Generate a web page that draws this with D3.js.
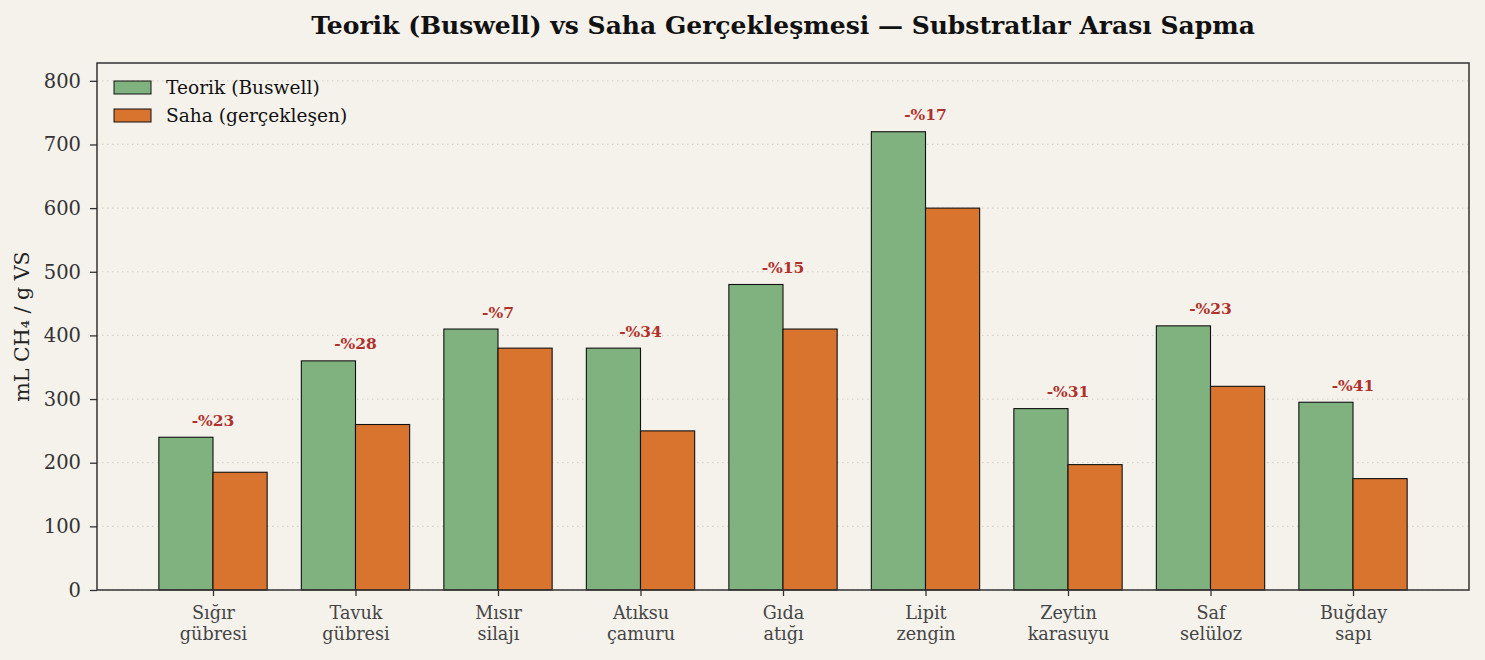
<!DOCTYPE html>
<html><head><meta charset="utf-8">
<script src="https://cdn.jsdelivr.net/npm/d3@7"></script>
<style>
html,body{margin:0;padding:0;background:#f5f2ec;}
svg{display:block;font-family:"DejaVu Serif",serif;}
</style></head>
<body><svg id="c" width="1485" height="660"></svg>
<script>
const categories = [["Sığır","gübresi"],["Tavuk","gübresi"],["Mısır","silajı"],["Atıksu","çamuru"],["Gıda","atığı"],["Lipit","zengin"],["Zeytin","karasuyu"],["Saf","selüloz"],["Buğday","sapı"]];
const teorik = [240, 360, 410, 380, 480, 720, 285, 415, 295];
const saha = [185, 260, 380, 250, 410, 600, 197, 320, 175];
const yTicks = [0,100,200,300,400,500,600,700,800];
const seriesNames = ["Teorik (Buswell)", "Saha (gerçekleşen)"];
const colors = ["#80b27f", "#d9742e"];

const W=1485,H=660;
const m={l:97,r:16,t:63,b:70};
const svg=d3.select("#c");
svg.append("rect").attr("width",W).attr("height",H).attr("fill","#f5f2ec");

const x=d3.scaleLinear().domain([-0.814, categories.length-1+0.814]).range([m.l, W-m.r]);
const y=d3.scaleLinear().domain([0, d3.max(teorik)*1.15]).range([H-m.b, m.t]);
const bw = x(0.38)-x(0);

// grid
svg.append("g").selectAll("line").data(yTicks).join("line")
  .attr("x1",m.l).attr("x2",W-m.r).attr("y1",d=>y(d)).attr("y2",d=>y(d))
  .attr("stroke","#d6d2c8").attr("stroke-width",1.2).attr("stroke-dasharray","1.5,3.5");

const g=svg.append("g");
categories.forEach((c,i)=>{
  g.append("rect").attr("x",x(i)-bw).attr("y",y(teorik[i])).attr("width",bw).attr("height",y(0)-y(teorik[i]))
    .attr("fill",colors[0]).attr("stroke","#111").attr("stroke-width",1.1);
  g.append("rect").attr("x",x(i)).attr("y",y(saha[i])).attr("width",bw).attr("height",y(0)-y(saha[i]))
    .attr("fill",colors[1]).attr("stroke","#111").attr("stroke-width",1.1);
  const pct=Math.round((1-saha[i]/teorik[i])*100);
  g.append("text").attr("x",x(i)).attr("y",y(Math.max(teorik[i],saha[i]))-11.5)
    .attr("text-anchor","middle").attr("font-weight","bold").attr("font-size",15.5)
    .attr("fill","#b0302a").text("-%"+pct);
});

// y axis
const ya=svg.append("g").attr("transform",`translate(${m.l},0)`)
  .call(d3.axisLeft(y).tickValues(yTicks).tickSize(7).tickPadding(9).tickFormat(d3.format("d")));
ya.select(".domain").remove();
ya.selectAll("line").attr("stroke","#333").attr("stroke-width",1.3);
ya.selectAll("text").attr("font-size",19.5).attr("fill","#333").attr("font-family","DejaVu Serif");

// x axis
const xa=svg.append("g").attr("transform",`translate(0,${H-m.b})`)
  .call(d3.axisBottom(x).tickValues(d3.range(categories.length)).tickSize(6).tickFormat(""));
xa.select(".domain").remove();
xa.selectAll("line").attr("stroke","#333").attr("stroke-width",1.3);
xa.selectAll(".tick").each(function(d){
  const t=d3.select(this).append("text").attr("fill","#444").attr("font-size",17.6).attr("text-anchor","middle").attr("font-family","DejaVu Serif");
  categories[d].forEach((s,k)=>t.append("tspan").attr("x",0).attr("y",29+k*20.5).text(s));
});

// frame
svg.append("rect").attr("x",m.l).attr("y",m.t).attr("width",W-m.r-m.l).attr("height",H-m.b-m.t)
  .attr("fill","none").attr("stroke","#333").attr("stroke-width",1.5);

// y label
svg.append("text").attr("transform",`translate(29,${(m.t+H-m.b)/2}) rotate(-90)`)
  .attr("text-anchor","middle").attr("font-size",20.6).attr("fill","#222").text("mL CH₄ / g VS");

// title
svg.append("text").attr("x",(m.l+W-m.r)/2).attr("y",34).attr("text-anchor","middle")
  .attr("font-weight","bold").attr("font-size",25).attr("fill","#111")
  .text("Teorik (Buswell) vs Saha Gerçekleşmesi — Substratlar Arası Sapma");

// legend
const lg=svg.append("g");
seriesNames.forEach((s,k)=>{
  lg.append("rect").attr("x",114).attr("y",81+k*28).attr("width",37).attr("height",13)
    .attr("fill",colors[k]).attr("stroke","#111").attr("stroke-width",1);
  lg.append("text").attr("x",166).attr("y",94+k*28).attr("font-size",18.6).attr("fill","#111").text(s);
});
</script></body></html>
